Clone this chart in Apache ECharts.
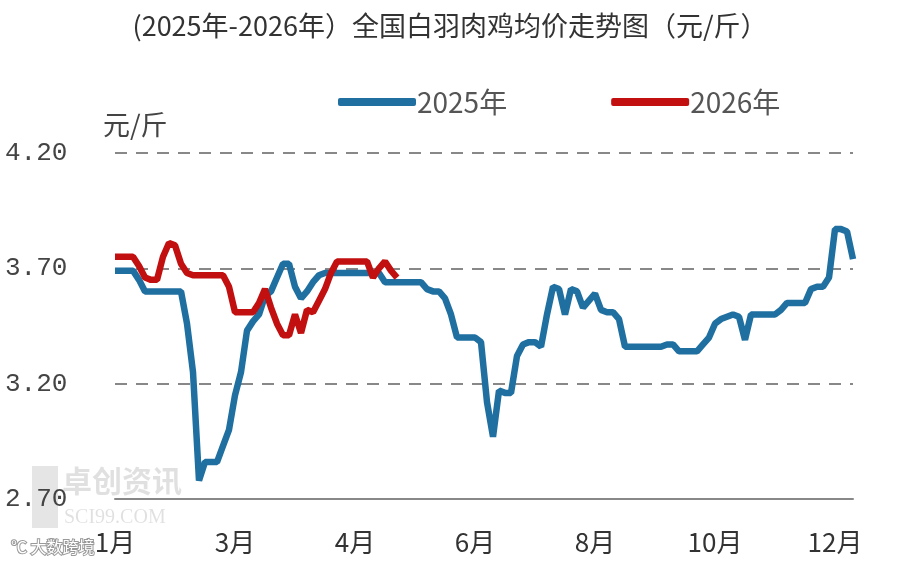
<!DOCTYPE html>
<html>
<head>
<meta charset="utf-8">
<script src="https://cdn.jsdelivr.net/npm/echarts@6/dist/echarts.min.js"></script>
<style>
  html, body { margin: 0; padding: 0; background: #fff; }
  #chart { width: 900px; height: 568px; }
</style>
</head>
<body>
<div id="chart"></div>
<script>
// 月份刻度，每 20 个点一个
const tickLabels = ['1月', '3月', '4月', '6月', '8月', '10月', '12月'];
const labelStep = 20;

// 2025年 均价（元/斤）
const price2025 = [
  3.69, 3.69, 3.69, 3.69, 3.65, 3.60, 3.60, 3.60, 3.60, 3.60,
  3.60, 3.60, 3.46, 3.25, 2.78, 2.86, 2.86, 2.86, 2.93, 3.00,
  3.15, 3.25, 3.43, 3.47, 3.50, 3.58, 3.60, 3.66, 3.72, 3.72,
  3.62, 3.57, 3.60, 3.64, 3.67, 3.68, 3.68, 3.68, 3.68, 3.68,
  3.68, 3.68, 3.68, 3.68, 3.68, 3.64, 3.64, 3.64, 3.64, 3.64,
  3.64, 3.64, 3.61, 3.60, 3.60, 3.57, 3.50, 3.40, 3.40, 3.40,
  3.40, 3.38, 3.12, 2.97, 3.17, 3.16, 3.16, 3.32, 3.37, 3.38,
  3.38, 3.36, 3.50, 3.62, 3.61, 3.50, 3.61, 3.60, 3.53, 3.56,
  3.59, 3.52, 3.51, 3.51, 3.48, 3.36, 3.36, 3.36, 3.36, 3.36,
  3.36, 3.36, 3.37, 3.37, 3.34, 3.34, 3.34, 3.34, 3.37, 3.40,
  3.46, 3.48, 3.49, 3.50, 3.49, 3.39, 3.50, 3.50, 3.50, 3.50,
  3.50, 3.52, 3.55, 3.55, 3.55, 3.55, 3.61, 3.62, 3.62, 3.66,
  3.87, 3.87, 3.86, 3.74
];

// 2026年 均价（元/斤）
const price2026 = [
  3.75, 3.75, 3.75, 3.75, 3.71, 3.66, 3.65, 3.65, 3.75, 3.81,
  3.80, 3.72, 3.68, 3.67, 3.67, 3.67, 3.67, 3.67, 3.67, 3.62,
  3.51, 3.51, 3.51, 3.51, 3.55, 3.61, 3.53, 3.46, 3.41, 3.41,
  3.50, 3.42, 3.52, 3.51, 3.56, 3.61, 3.68, 3.73, 3.73, 3.73,
  3.73, 3.73, 3.73, 3.66, 3.70, 3.73, 3.69, 3.66
];

const categories = price2025.map(function (v, i) { return String(i); });

const chart = echarts.init(document.getElementById('chart'));

chart.setOption({
  animation: false,
  backgroundColor: '#fff',
  title: [
    {
      text: '(2025年-2026年）全国白羽肉鸡均价走势图（元/斤）',
      left: 'center',
      top: 7,
      textStyle: { fontSize: 27, fontWeight: 'normal', color: '#333', fontFamily: 'Noto Sans CJK SC' }
    },
    {
      text: '元/斤',
      left: 98,
      top: 106,
      textStyle: { fontSize: 27, fontWeight: 'normal', color: '#444', fontFamily: 'Noto Sans CJK SC' }
    }
  ],
  legend: {
    left: 333,
    top: 83,
    itemGap: 104,
    itemWidth: 78,
    itemHeight: 8,
    icon: 'roundRect',
    textStyle: { fontSize: 28, color: '#555', padding: [0, 0, 0, -4], fontFamily: 'Noto Sans CJK SC' },
    data: ['2025年', '2026年']
  },
  grid: { left: 115, right: 47, top: 153, bottom: 69 },
  xAxis: {
    type: 'category',
    boundaryGap: false,
    data: categories,
    axisLine: { lineStyle: { color: '#888', width: 2 } },
    axisTick: { show: false },
    axisLabel: {
      interval: labelStep - 1,
      margin: 30,
      fontSize: 26,
      color: '#333',
      fontFamily: 'Noto Sans CJK SC',
      formatter: function (v, i) { return tickLabels[i / labelStep] || ''; }
    },
    splitLine: { show: false }
  },
  yAxis: {
    type: 'value',
    min: 2.7,
    max: 4.2,
    interval: 0.5,
    axisLine: { show: false },
    axisTick: { show: false },
    axisLabel: {
      align: 'left',
      margin: 110,
      fontSize: 26,
      color: '#444',
      fontFamily: 'Liberation Mono',
      formatter: function (v) { return v.toFixed(2); }
    },
    splitLine: { lineStyle: { color: '#888', width: 2, type: [12, 9] } }
  },
  graphic: [
    { type: 'rect', left: 32, top: 466, shape: { width: 26, height: 62 }, style: { fill: '#000', opacity: 0.1 } },
    { type: 'text', left: 62, top: 466, style: { text: '卓创资讯', fontSize: 30, fontWeight: 'bold', fill: '#000', opacity: 0.12, fontFamily: 'Noto Sans CJK SC' } },
    { type: 'text', left: 64, top: 508, style: { text: 'SCI99.COM', fontSize: 20, fill: '#000', opacity: 0.12, fontFamily: 'Liberation Serif' } },
    { type: 'text', left: 10, top: 538, style: { text: '℃ 大数跨境', fontSize: 16, fill: '#fff', stroke: '#999', lineWidth: 2, fontFamily: 'Noto Sans CJK SC' } }
  ],
  series: [
    {
      name: '2025年',
      type: 'line',
      data: price2025,
      showSymbol: false,
      color: '#1f6fa0',
      lineStyle: { width: 6.5, color: '#1f6fa0' }
    },
    {
      name: '2026年',
      type: 'line',
      data: price2026,
      showSymbol: false,
      color: '#c20f10',
      lineStyle: { width: 6.5, color: '#c20f10' }
    }
  ]
});
</script>
</body>
</html>
